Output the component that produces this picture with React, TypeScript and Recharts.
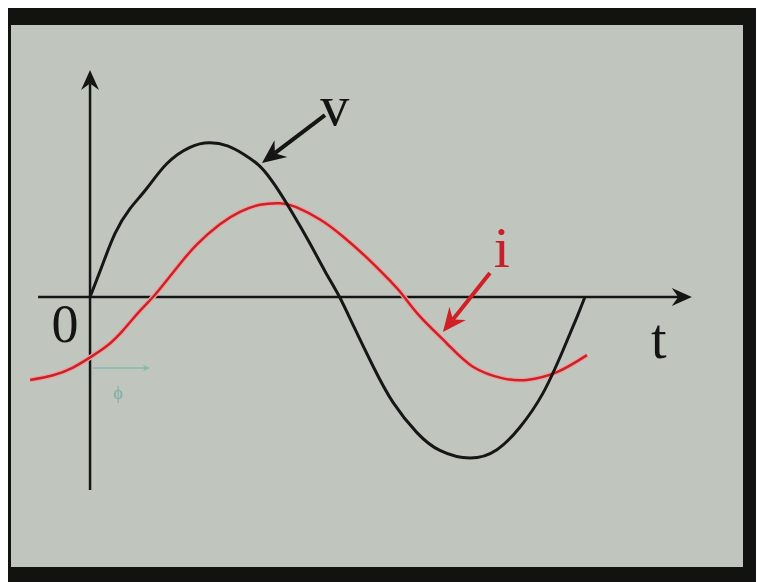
import { LineChart, Line, XAxis, YAxis, ReferenceLine, ReferenceDot } from 'recharts';

// t in degrees of the v cycle, values as a fraction of the v peak
const vCurve = [
  { t: 0, y: 0 },
  { t: 8.5, y: 0.195 },
  { t: 18.2, y: 0.41 },
  { t: 29.1, y: 0.57 },
  { t: 41.2, y: 0.7 },
  { t: 55.8, y: 0.86 },
  { t: 72.7, y: 0.966 },
  { t: 87, y: 0.995 },
  { t: 100, y: 0.975 },
  { t: 112, y: 0.92 },
  { t: 124, y: 0.84 },
  { t: 135, y: 0.715 },
  { t: 147, y: 0.545 },
  { t: 160, y: 0.345 },
  { t: 171, y: 0.165 },
  { t: 181.5, y: 0 },
  { t: 191.3, y: -0.18 },
  { t: 205.8, y: -0.445 },
  { t: 220.4, y: -0.68 },
  { t: 237.8, y: -0.875 },
  { t: 254.5, y: -0.99 },
  { t: 276.4, y: -1.039 },
  { t: 296, y: -0.985 },
  { t: 312.7, y: -0.84 },
  { t: 329.5, y: -0.62 },
  { t: 344, y: -0.345 },
  { t: 354.2, y: -0.13 },
  { t: 360, y: 0 },
];

const iCurve = [
  { t: -43.6, y: -0.535 },
  { t: -26.9, y: -0.505 },
  { t: -12.4, y: -0.455 },
  { t: 0, y: -0.39 },
  { t: 12.4, y: -0.315 },
  { t: 24, y: -0.215 },
  { t: 36.4, y: -0.088 },
  { t: 45.8, y: 0 },
  { t: 56, y: 0.11 },
  { t: 65.5, y: 0.215 },
  { t: 77.8, y: 0.34 },
  { t: 94.5, y: 0.47 },
  { t: 109.1, y: 0.55 },
  { t: 123.6, y: 0.595 },
  { t: 138.2, y: 0.605 },
  { t: 150, y: 0.58 },
  { t: 167.3, y: 0.5 },
  { t: 184, y: 0.39 },
  { t: 203.6, y: 0.235 },
  { t: 218.2, y: 0.105 },
  { t: 226.9, y: 0.02 },
  { t: 240, y: -0.125 },
  { t: 259.6, y: -0.3 },
  { t: 278.5, y: -0.45 },
  { t: 300.4, y: -0.525 },
  { t: 317.8, y: -0.535 },
  { t: 339.6, y: -0.485 },
  { t: 361.5, y: -0.375 },
];

const labels = [
  { text: 'v', t: 178, y: 1.11, color: '#141414', size: 58 },
  { text: 'i', t: 299.6, y: 0.194, color: '#c8202a', size: 58 },
  { text: '0', t: -18.2, y: -0.29, color: '#141414', size: 54 },
  { text: 't', t: 413.8, y: -0.394, color: '#141414', size: 56 },
  { text: 'ϕ', t: 20.4, y: -0.655, color: '#7aaea6', size: 18 },
];

const arrows = [
  { from: [-37.8, 0], to: [437.8, 0], color: '#151515', width: 2.5, head: 22 },
  { from: [0, -1.245], to: [0, 1.465], color: '#151515', width: 2.5, head: 22 },
  { from: [170.9, 1.174], to: [125.1, 0.865], color: '#151515', width: 4, head: 26 },
  { from: [290.9, 0.155], to: [256.7, -0.226], color: '#d02026', width: 4, head: 26 },
  { from: [2.2, -0.458], to: [43.6, -0.458], color: '#86b8b0', width: 1.5, head: 8 },
];

function arrowShape(color: string, width: number, head: number) {
  return (props: any) => {
    const x1 = Number(props.x1), y1 = Number(props.y1), x2 = Number(props.x2), y2 = Number(props.y2);
    const ang = Math.atan2(y2 - y1, x2 - x1);
    const back = (d: number, a: number) => [x2 - d * Math.cos(ang + a), y2 - d * Math.sin(ang + a)];
    const l = back(head, 0.42);
    const r = back(head, -0.42);
    const n = back(head * 0.62, 0);
    return (
      <g>
        <line x1={x1} y1={y1} x2={n[0]} y2={n[1]} stroke={color} strokeWidth={width} />
        <polygon points={`${x2},${y2} ${l[0]},${l[1]} ${n[0]},${n[1]} ${r[0]},${r[1]}`} fill={color} />
      </g>
    );
  };
}

function textShape(text: string, color: string, size: number) {
  return (props: any) => (
    <text
      x={props.cx}
      y={props.cy}
      textAnchor="middle"
      fill={color}
      fontSize={size}
      fontFamily="'Liberation Serif', 'DejaVu Serif', serif"
    >
      {text}
    </text>
  );
}

export default function App() {
  return (
    <div style={{ position: 'relative', width: 756, height: 574, background: '#121310' }}>
      <div style={{ position: 'absolute', left: 3, top: 17, width: 732, height: 542, background: '#c0c6be' }}>
        <LineChart width={732} height={542} margin={{ top: 0, right: 0, bottom: 0, left: 0 }}>
          <XAxis type="number" dataKey="t" domain={[-57.5, 475]} hide allowDataOverflow />
          <YAxis type="number" dataKey="y" domain={[-1.742, 1.755]} hide allowDataOverflow />

          {arrows.slice(0, 2).map((a, k) => (
            <ReferenceLine
              key={'ax' + k}
              segment={[{ x: a.from[0], y: a.from[1] }, { x: a.to[0], y: a.to[1] }]}
              shape={arrowShape(a.color, a.width, a.head)}
            />
          ))}

          <Line data={iCurve} dataKey="y" type="natural" stroke="#e8a4a2" strokeWidth={5} dot={false} isAnimationActive={false} />
          <Line data={iCurve} dataKey="y" type="natural" stroke="#cc2128" strokeWidth={2.5} dot={false} isAnimationActive={false} />
          <Line data={vCurve} dataKey="y" type="natural" stroke="#161616" strokeWidth={3} dot={false} isAnimationActive={false} />

          {arrows.slice(2).map((a, k) => (
            <ReferenceLine
              key={'ar' + k}
              segment={[{ x: a.from[0], y: a.from[1] }, { x: a.to[0], y: a.to[1] }]}
              shape={arrowShape(a.color, a.width, a.head)}
            />
          ))}

          {labels.map((l) => (
            <ReferenceDot key={l.text} x={l.t} y={l.y} r={0} shape={textShape(l.text, l.color, l.size)} />
          ))}
        </LineChart>
      </div>
    </div>
  );
}
